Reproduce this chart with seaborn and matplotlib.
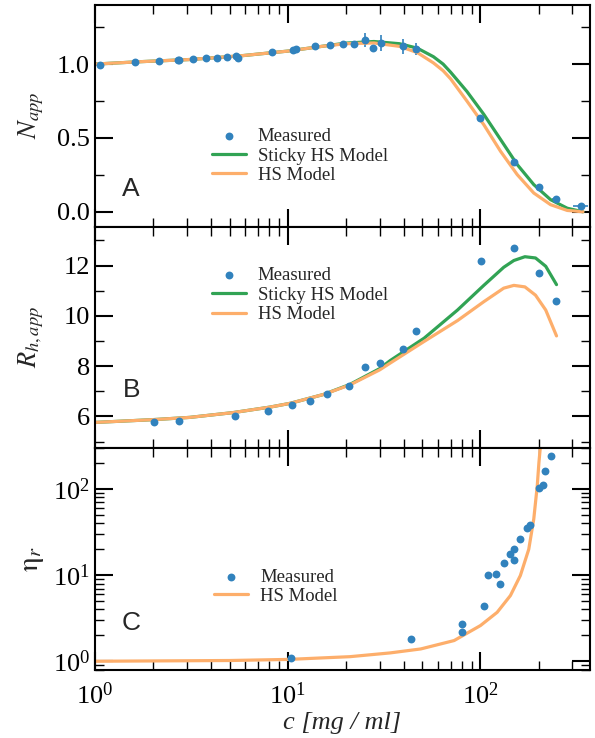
import matplotlib
matplotlib.use('Agg')
import matplotlib.pyplot as plt
import matplotlib.ticker as mticker
import seaborn as sns

# colours
BLUE = '#3182bd'
GREEN = '#31a354'
ORANGE = '#fdae6b'

# panel A: apparent aggregation number
conc_a = [1.06, 1.61, 2.15, 2.69, 2.74, 3.22, 3.76, 4.30, 4.83, 5.38, 5.51, 8.28,
          10.6, 11.0, 13.8, 16.5, 19.3, 22.1, 25.1, 27.7, 30.5, 39.5, 46.4,
          100, 149, 201, 246, 331]
n_app = [0.995, 1.014, 1.02, 1.027, 1.031, 1.036, 1.041, 1.043, 1.048, 1.054, 1.043, 1.079,
         1.095, 1.10, 1.12, 1.131, 1.138, 1.136, 1.163, 1.106, 1.143, 1.12, 1.10,
         0.633, 0.335, 0.165, 0.086, 0.038]
# error bars (only the visible ones)
conc_a_err = [25.1, 30.5, 39.5, 46.4, 100, 246, 331]
n_app_err = [1.163, 1.143, 1.12, 1.10, 0.633, 0.086, 0.038]
n_yerr = [0.045, 0.053, 0.05, 0.04, 0.025, 0.0, 0.0]
n_xerr = [0, 0, 0, 0, 4, 12, 30]

conc_a_model = [1, 1.7, 3.1, 5.7, 10, 15, 20, 28, 38, 47, 57, 64, 70, 85, 104, 127,
                155, 189, 231, 282, 340]
n_sticky = [1.0, 1.016, 1.031, 1.056, 1.088, 1.12, 1.142, 1.153, 1.138, 1.108, 1.05,
            1.0, 0.945, 0.815, 0.66, 0.49, 0.32, 0.184, 0.082, 0.024, 0.0]
n_hs = [1.0, 1.016, 1.031, 1.056, 1.088, 1.12, 1.138, 1.143, 1.12, 1.078, 1.008,
        0.955, 0.9, 0.75, 0.59, 0.41, 0.252, 0.127, 0.048, 0.009, 0.0]

# panel B: apparent hydrodynamic radius
conc_b = [2.03, 2.74, 5.31, 7.89, 10.5, 13.0, 16.0, 20.8, 25.1, 30.2, 39.5, 46.1,
          101, 149, 201, 246]
r_h = [5.76, 5.80, 6.01, 6.20, 6.46, 6.63, 6.88, 7.20, 7.98, 8.14, 8.67, 9.41,
       12.18, 12.69, 11.71, 10.59]

conc_b_model = [1, 2, 3.1, 5.2, 8.1, 10.3, 15.3, 21, 30, 34, 51, 76, 104, 132,
                149, 170, 193, 218, 248]
r_sticky = [5.76, 5.87, 5.96, 6.15, 6.37, 6.52, 6.87, 7.27, 7.90, 8.22, 9.11, 10.23,
            11.21, 11.93, 12.2, 12.35, 12.3, 11.97, 11.24]
r_hs = [5.76, 5.87, 5.96, 6.15, 6.37, 6.52, 6.87, 7.25, 7.85, 8.12, 8.98, 9.81,
        10.56, 11.1, 11.21, 11.15, 10.82, 10.23, 9.2]

# panel C: relative viscosity
conc_c = [10.4, 43.7, 80, 80, 104, 110, 120, 127, 132, 143, 150, 150, 160, 175,
          180, 202, 212, 216, 232]
eta_r = [1.1, 1.83, 2.71, 2.21, 4.43, 10.1, 10.4, 7.82, 13.7, 17.5, 20.0, 15.2,
         26.4, 35.5, 38.2, 103, 111, 164, 241]

conc_c_model = [1, 5, 10, 21, 34, 49, 73, 100, 122, 143, 161, 178, 189, 197, 201, 205]
eta_hs = [1.0, 1.02, 1.05, 1.13, 1.25, 1.39, 1.74, 2.6, 3.7, 5.8, 9.9, 20, 45, 109,
          204, 330]

sns.set_theme(style='ticks')
plt.rcParams['font.family'] = ['Liberation Serif', 'DejaVu Serif']
plt.rcParams['mathtext.fontset'] = 'stix'
plt.rcParams['axes.linewidth'] = 1.5

fig, axes = plt.subplots(3, 1, sharex=True, figsize=(5.95, 7.38), dpi=100)
fig.subplots_adjust(left=0.1597, right=0.9916, top=0.9932, bottom=0.0927, hspace=0)
ax_a, ax_b, ax_c = axes


def style_axis(ax):
    ax.tick_params(which='both', direction='in', top=True, right=True,
                   colors='black', labelsize=19)
    ax.tick_params(which='major', length=13, width=1.5)
    ax.tick_params(which='minor', length=6.5, width=1.0)
    ax.tick_params(axis='x', which='both', pad=9.5)
    for s in ax.spines.values():
        s.set_linewidth(1.5)
        s.set_color('black')


def add_legend(ax, x, y):
    leg = ax.legend(loc='center', bbox_to_anchor=(x, y), frameon=False,
                    fontsize=13.5, handlelength=1.8, handletextpad=0.65,
                    labelspacing=0.12, borderpad=0.2)
    return leg


# ---- panel A
ax_a.errorbar(conc_a_err, n_app_err, yerr=n_yerr, xerr=n_xerr, fmt='none',
              ecolor=BLUE, elinewidth=1.2, capsize=0)
sns.scatterplot(x=conc_a, y=n_app, ax=ax_a, color=BLUE, s=32, linewidth=0,
                label='Measured', zorder=3)
sns.lineplot(x=conc_a_model, y=n_sticky, ax=ax_a, color=GREEN, lw=2.3,
             sort=False, estimator=None, label='Sticky HS Model')
sns.lineplot(x=conc_a_model, y=n_hs, ax=ax_a, color=ORANGE, lw=2.3,
             sort=False, estimator=None, label='HS Model')
ax_a.set_xscale('log')
ax_a.set_ylim(-0.1, 1.4)
ax_a.yaxis.set_major_locator(mticker.FixedLocator([0.0, 0.5, 1.0]))
ax_a.yaxis.set_minor_locator(mticker.MultipleLocator(0.25))
ax_a.yaxis.set_major_formatter(mticker.FormatStrFormatter('%.1f'))
ax_a.set_ylabel('$N_{app}$', fontsize=19)
ax_a.text(0.073, 0.17, 'A', transform=ax_a.transAxes, fontsize=19,
          family='Liberation Sans', ha='center', va='center')
add_legend(ax_a, 0.414, 0.318)

# ---- panel B
sns.scatterplot(x=conc_b, y=r_h, ax=ax_b, color=BLUE, s=32, linewidth=0,
                label='Measured', zorder=3)
sns.lineplot(x=conc_b_model, y=r_sticky, ax=ax_b, color=GREEN, lw=2.3,
             sort=False, estimator=None, label='Sticky HS Model')
sns.lineplot(x=conc_b_model, y=r_hs, ax=ax_b, color=ORANGE, lw=2.3,
             sort=False, estimator=None, label='HS Model')
ax_b.set_ylim(4.74, 13.55)
ax_b.yaxis.set_major_locator(mticker.FixedLocator([6, 8, 10, 12]))
ax_b.yaxis.set_minor_locator(mticker.MultipleLocator(1))
ax_b.set_ylabel('$R_{h,app}$', fontsize=19)
ax_b.text(0.073, 0.26, 'B', transform=ax_b.transAxes, fontsize=19,
          family='Liberation Sans', ha='center', va='center')
add_legend(ax_b, 0.414, 0.69)

# ---- panel C
sns.scatterplot(x=conc_c, y=eta_r, ax=ax_c, color=BLUE, s=32, linewidth=0,
                label='Measured', zorder=3)
sns.lineplot(x=conc_c_model, y=eta_hs, ax=ax_c, color=ORANGE, lw=2.3,
             sort=False, estimator=None, label='HS Model')
ax_c.set_yscale('log')
ax_c.set_ylim(0.8, 300)
ax_c.yaxis.set_major_locator(mticker.LogLocator(base=10, numticks=10))
ax_c.yaxis.set_minor_locator(mticker.LogLocator(base=10, subs=range(2, 10), numticks=20))
ax_c.yaxis.set_minor_formatter(mticker.NullFormatter())
ax_c.set_ylabel(r'$\mathrm{\eta}_{r}$', fontsize=21)
ax_c.text(0.073, 0.21, 'C', transform=ax_c.transAxes, fontsize=19,
          family='Liberation Sans', ha='center', va='center')
add_legend(ax_c, 0.366, 0.374)

ax_c.set_xlim(1, 370)
ax_c.xaxis.set_minor_locator(mticker.LogLocator(base=10, subs=range(2, 10), numticks=20))
ax_c.xaxis.set_minor_formatter(mticker.NullFormatter())
ax_c.set_xlabel('c [mg / ml]', fontsize=19, fontstyle='italic', labelpad=2)

for ax in axes:
    style_axis(ax)
    ax.yaxis.set_label_coords(-0.1, 0.5)

fig.savefig('out.png', dpi=100)
